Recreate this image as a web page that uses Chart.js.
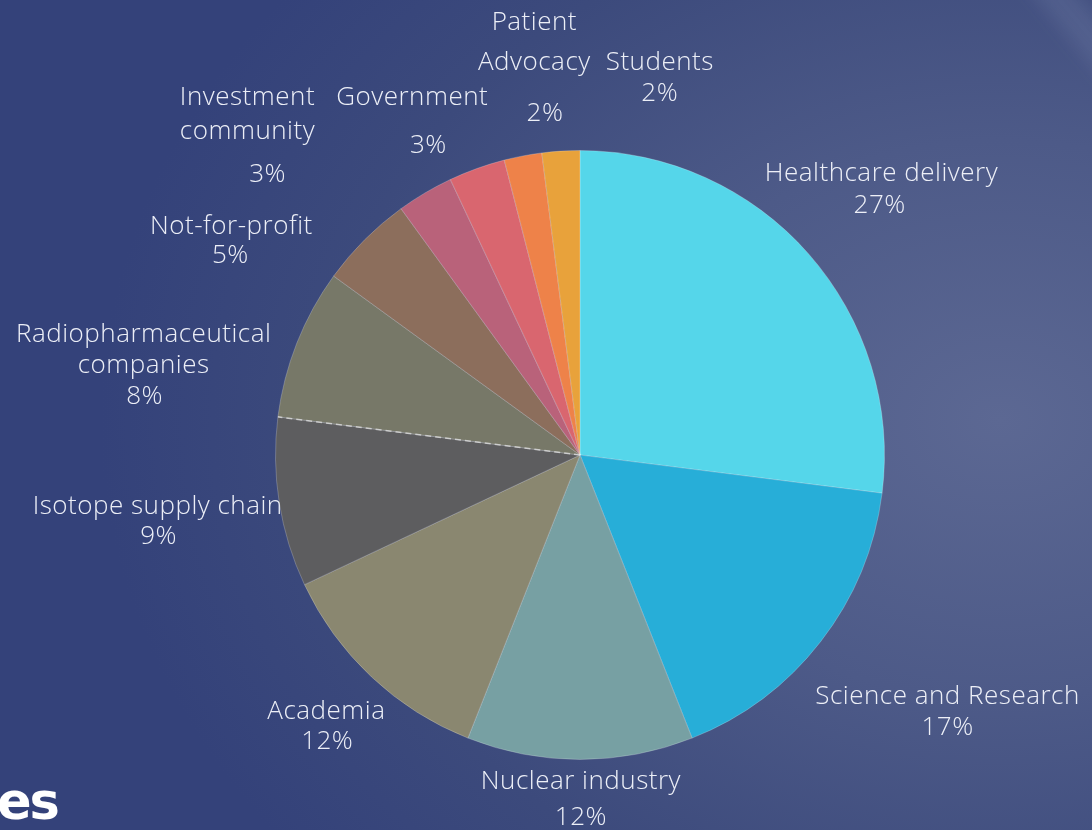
<!DOCTYPE html>
<html>
<head>
<meta charset="utf-8">
<script src="https://cdn.jsdelivr.net/npm/chart.js@4"></script>
<style>
html,body{margin:0;padding:0;}
body{width:1092px;height:830px;overflow:hidden;position:relative;
 background:radial-gradient(ellipse 900px 700px at 1000px 420px,#5c6893 0%,#4d5a88 40%,#3c4a7c 75%,#34427a 100%);
 font-family:"Open Sans",sans-serif;}
#wrap{position:absolute;left:0;top:0;width:1092px;height:830px;}
#glint{position:absolute;left:1068px;top:-60px;width:34px;height:180px;background:rgba(200,210,240,0.10);filter:blur(8px);transform:rotate(-40deg);}
#title{position:absolute;left:-3px;top:774px;color:#fff;font:bold 51px "DejaVu Sans",sans-serif;letter-spacing:-2px;line-height:56px;}
</style>
</head>
<body>
<div id="glint"></div>
<div id="wrap"><canvas id="pieChart"></canvas></div>
<div id="title">es</div>
<script>
const categories=['Healthcare delivery','Science and Research','Nuclear industry','Academia','Isotope supply chain','Radiopharmaceutical companies','Not-for-profit','Investment community','Government','Patient Advocacy','Students']
const shares=[27,17,12,12,9,8,5,3,3,2,2]
const sliceColours=['#55d6ea','#27aed8','#77a0a3','#8a8770','#5d5d5f','#777868','#8c6e5c','#b9627a','#d9666f','#ee8249','#e8a23b']

// label lines and where they sit, in pie-radius units from the centre
const labelLines=[['Healthcare delivery'],['Science and Research'],['Nuclear industry'],['Academia'],['Isotope supply chain'],['Radiopharmaceutical','companies'],['Not-for-profit'],['Investment','community'],['Government'],['Patient','Advocacy'],['Students']]
const nameAt=[[0.99,-0.925],[1.207,0.793],[0.003,1.072],[-0.833,0.843],[-1.387,0.170],[-1.433,-0.397],[-1.145,-0.751],[-1.092,-1.174],[-0.551,-1.174],[-0.15,-1.420],[0.262,-1.289]]
const pctAt=[[0.984,-0.820],[1.207,0.895],[0.003,1.190],[-0.830,0.941],[-1.384,0.269],[-1.430,-0.193],[-1.148,-0.656],[-1.026,-0.921],[-0.498,-1.016],[-0.115,-1.121],[0.262,-1.187]]
const lineGap=[31,31,31,31,31,31,31,34,31,40,31]

const outsideLabels={
 id:'outsideLabels',
 afterDatasetsDraw(chart){
  const ctx=chart.ctx
  const arcs=chart.getDatasetMeta(0).data
  const cx=arcs[0].x, cy=arcs[0].y, r=arcs[0].outerRadius
  // dashed seam between isotope and radiopharma slices
  const seam=arcs[5].startAngle
  ctx.save()
  ctx.strokeStyle='rgba(225,225,225,0.75)'
  ctx.lineWidth=1.5
  ctx.setLineDash([6,4])
  ctx.beginPath()
  ctx.moveTo(cx,cy)
  ctx.lineTo(cx+Math.cos(seam)*r,cy+Math.sin(seam)*r)
  ctx.stroke()
  ctx.setLineDash([])
  ctx.fillStyle='rgba(244,246,252,0.96)'
  ctx.font='300 26px "Open Sans"'
  ctx.letterSpacing='0.5px'
  ctx.textAlign='center'
  ctx.textBaseline='middle'
  arcs.forEach((a,i)=>{
   labelLines[i].forEach((t,k)=>{
    ctx.fillText(t,cx+nameAt[i][0]*r,cy+nameAt[i][1]*r+k*lineGap[i])
   })
   ctx.fillText(shares[i]+'%',cx+pctAt[i][0]*r,cy+pctAt[i][1]*r)
  })
  ctx.restore()
 }
}

new Chart(document.getElementById('pieChart'),{
 type:'pie',
 data:{
  labels:categories,
  datasets:[{data:shares,backgroundColor:sliceColours,borderColor:'rgba(255,255,255,0.22)',borderWidth:1}]
 },
 options:{
  responsive:true,
  maintainAspectRatio:false,
  animation:false,
  layout:{padding:{left:275,right:207,top:150,bottom:70}},
  plugins:{legend:{display:false},tooltip:{enabled:false}}
 },
 plugins:[outsideLabels]
})
</script>
</body>
</html>
